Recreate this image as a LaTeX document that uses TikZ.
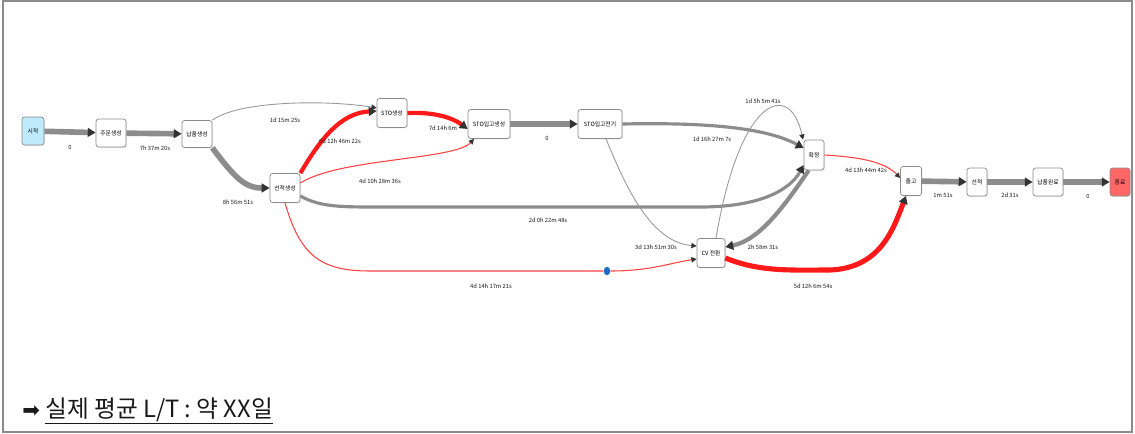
\documentclass[tikz,border=0pt]{standalone}
\usepackage{fontspec}
\newfontfamily\kr{Noto Sans CJK KR}
\newfontfamily\sym{DejaVu Sans}
\usetikzlibrary{arrows.meta,shadows,shapes.geometric}
\definecolor{dotblue}{RGB}{30,110,200}

\begin{document}
\begin{tikzpicture}[x=0.02cm, y=-0.02cm,
  box/.style={draw=black!45, fill=white, rounded corners=1.5pt, inner sep=0pt,
    line width=0.4pt, font=\kr\fontsize{3.3}{4}\selectfont,
    drop shadow={shadow xshift=0.5pt, shadow yshift=-0.5pt, opacity=0.2}},
  lbl/.style={font=\kr\fontsize{3.3}{4}\selectfont, text=black!90, inner sep=0pt},
  bigarr/.style={-{Triangle[length=4.5pt, width=5pt, color=black!80]}},
  smallarr/.style={-{Triangle[length=3pt, width=3pt, color=black!80]}},
  grayheavy/.style={draw=black!45, line width=3.2pt, bigarr},
  graymed/.style={draw=black!45, line width=1.8pt, bigarr},
  grayfaint/.style={draw=black!40, line width=0.5pt, smallarr},
  redheavy/.style={draw=red!90, line width=2.4pt, bigarr},
  redfaint/.style={draw=red!75, line width=0.6pt, smallarr}]
  \useasboundingbox (0,0) rectangle (1135,433);
  \draw[black!45, line width=0.6pt] (3,1) rectangle (1132,432);

  % process steps
  \node[box, fill=cyan!25, minimum width=0.44cm, minimum height=0.56cm] (start) at (33,131) {시작};
  \node[box, minimum width=0.6cm, minimum height=0.56cm] (ord) at (111,133) {주문생성};
  \node[box, minimum width=0.6cm, minimum height=0.54cm] (nab) at (197,134) {납품생성};
  \node[box, minimum width=0.6cm, minimum height=0.58cm] (sun) at (285,188) {선적생성};
  \node[box, minimum width=0.6cm, minimum height=0.58cm] (sto) at (392,113) {STO생성};
  \node[box, minimum width=0.84cm, minimum height=0.58cm] (stoin) at (489,124) {STO입고생성};
  \node[box, minimum width=0.88cm, minimum height=0.58cm] (stopost) at (600,124) {STO입고전기};
  \node[box, minimum width=0.4cm, minimum height=0.6cm] (conf) at (814,155) {확정};
  \node[box, minimum width=0.56cm, minimum height=0.58cm] (cv) at (711,253) {CV 전환};
  \node[box, minimum width=0.42cm, minimum height=0.58cm] (out) at (911,181) {출고};
  \node[box, minimum width=0.4cm, minimum height=0.56cm] (ship) at (977,182) {선적};
  \node[box, minimum width=0.6cm, minimum height=0.56cm] (done) at (1048,182) {납품완료};
  \node[box, fill=red!60, minimum width=0.4cm, minimum height=0.56cm] (fin) at (1120,182) {종료};
  \node[ellipse, fill=dotblue, minimum width=0.13cm, minimum height=0.17cm, inner sep=0pt] (dot) at (607,271) {};

  % flows
  \draw[grayheavy] (start) -- (ord);
  \draw[grayheavy] (ord) -- (nab);
  \draw[grayheavy] (nab.south east) .. controls (235,178) and (245,188) .. (sun.west);
  \draw[grayfaint] (nab.north east) .. controls (240,100) and (330,100) .. ([yshift=0.1cm]sto.west);
  \draw[redheavy] (sun.north east) .. controls (320,140) and (340,113) .. ([yshift=0.04cm]sto.west);
  \draw[redheavy] (sto.east) .. controls (430,112) and (450,116) .. ([yshift=-0.1cm]stoin.west);
  \draw[redfaint] ([yshift=0.1cm]sun.east) .. controls (340,158) and (455,160) .. ([xshift=-0.3cm]stoin.south);
  \draw[grayheavy] (stoin) -- (stopost);
  \draw[graymed] (stopost.east) .. controls (720,122) and (770,130) .. ([yshift=0.14cm]conf.west);
  \draw[graymed] ([yshift=-0.16cm]sun.east) .. controls (320,207) and (340,207) .. (380,207)
    -- (700,207) .. controls (760,207) and (790,190) .. ([yshift=-0.2cm]conf.west);
  \draw[grayfaint] ([xshift=0.12cm]stopost.south) .. controls (625,185) and (650,242) .. ([yshift=0.14cm]cv.west);
  \draw[grayfaint] ([xshift=0.1cm]cv.north) .. controls (740,95) and (790,80) .. ([xshift=-0.22cm]conf.north);
  \draw[grayheavy, line width=2.4pt] ([xshift=0.1cm]conf.south west) .. controls (785,205) and (760,240) .. ([yshift=0.12cm]cv.east);
  \draw[redfaint, -] (sun.south) .. controls (300,255) and (320,271) .. (370,271) -- (dot);
  \draw[redfaint] (dot) .. controls (650,271) and (670,263) .. ([yshift=-0.12cm]cv.west);
  \draw[redheavy, line width=2.9pt] ([yshift=-0.1cm]cv.east) .. controls (760,272) and (790,270) .. (830,270)
    .. controls (880,268) and (893,230) .. ([xshift=-0.1cm]out.south);
  \draw[redfaint] (conf.east) .. controls (860,157) and (885,162) .. ([yshift=0.06cm]out.west);
  \draw[grayheavy] (out) -- (ship);
  \draw[grayheavy] (ship) -- (done);
  \draw[grayheavy] (done) -- (fin);

  % durations
  \node[lbl] (l1) at (70,147) {0};
  \node[lbl] (l2) at (155,148) {7h 37m 20s};
  \node[lbl] (l3) at (238,202) {8h 56m 51s};
  \node[lbl] (l4) at (285,120) {1d 15m 25s};
  \node[lbl] (l5) at (340,141) {6d 12h 46m 22s};
  \node[lbl] (l6) at (443,128) {7d 14h 6m};
  \node[lbl] (l7) at (380,181) {4d 10h 28m 36s};
  \node[lbl] (l8) at (547,138) {0};
  \node[lbl] (l9) at (712,139) {1d 16h 27m 7s};
  \node[lbl] (l10) at (763,101) {1d 5h 5m 41s};
  \node[lbl] (l11) at (548,220) {2d 0h 22m 48s};
  \node[lbl] (l12) at (656,247) {3d 13h 51m 30s};
  \node[lbl] (l13) at (763,247) {2h 58m 31s};
  \node[lbl] (l14) at (491,286) {4d 14h 17m 21s};
  \node[lbl] (l15) at (813,286) {5d 12h 6m 54s};
  \node[lbl] (l16) at (866,170) {4d 13h 44m 42s};
  \node[lbl] (l17) at (943,195) {1m 51s};
  \node[lbl] (l18) at (1010,195) {2d 31s};
  \node[lbl] (l19) at (1088,196) {0};

  \node[anchor=base west, inner sep=0pt, font=\kr\fontsize{13.5}{15}\selectfont, text=black!90] (lt) at (22,417)
    {{\sym\fontsize{12}{13}\selectfont ➡}\ \underline{실제 평균 L/T : 약 XX일}};
\end{tikzpicture}
\end{document}
